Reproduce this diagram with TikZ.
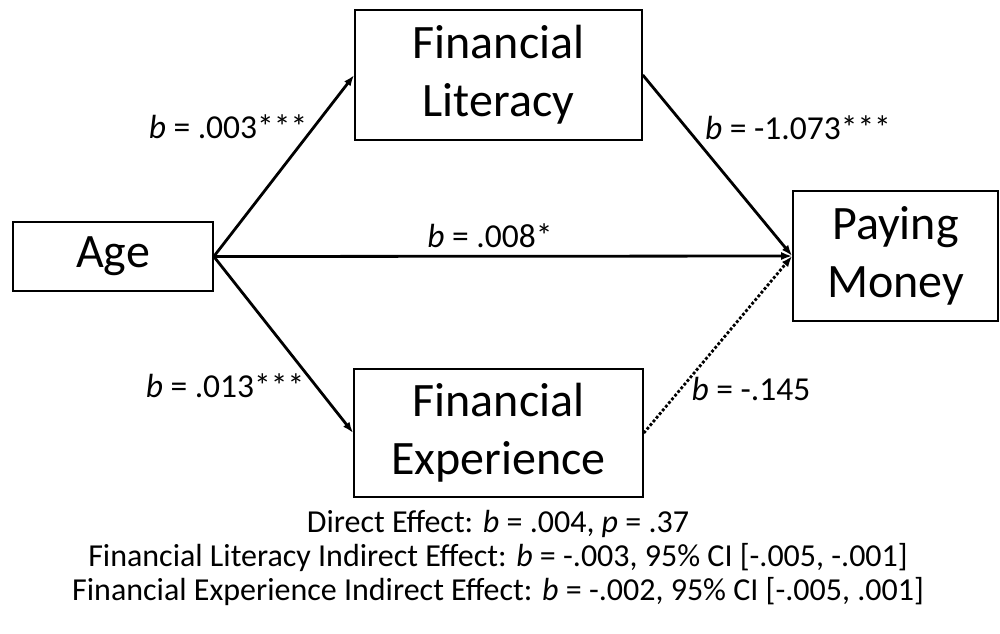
\documentclass[tikz,border=0pt]{standalone}
\usepackage{fontspec}
\setmainfont{Carlito}
\usetikzlibrary{arrows.meta,positioning}

\begin{document}
\begin{tikzpicture}[x=1pt,y=-1pt,
        block/.style={draw,rectangle,line width=1.6pt,inner sep=0pt,align=center,
          font=\fontsize{48}{58}\selectfont},
        effect/.style={line width=2.8pt,-{Latex[length=11pt,width=8pt]}},
        coef/.style={inner sep=0pt,anchor=base,font=\fontsize{33.5}{36}\selectfont}]
   \useasboundingbox (0,0) rectangle (1000,633);
   \node (A) [block,minimum width=200pt,minimum height=69pt] at (113,256.5) {Age};
   \node (L) [block,minimum width=287pt,minimum height=130pt] at (498.5,75) {Financial\\Literacy};
   \node (E) [block,minimum width=289pt,minimum height=128pt] at (498.5,433) {Financial\\Experience};
   \node (P) [block,minimum width=205pt,minimum height=130pt] at (895.5,256) {Paying\\Money};
   \draw[effect] (A.east) -- (L.west);
   \draw[effect] (A.east) -- (E.west);
   \draw[effect] (A.east) -- (P.west);
   \draw[effect] (L.east) -- (P.west);
   \draw[effect,dotted] (E.east) -- (P.west);
   \node (bAL) [coef] at (228,138) {\textit{b} = .003***};
   \node (bAE) [coef] at (225,397) {\textit{b} = .013***};
   \node (bAP) [coef] at (490,247) {\textit{b} = .008*};
   \node (bLP) [coef] at (798,139) {\textit{b} = -1.073***};
   \node (bEP) [coef] at (751,400) {\textit{b} = -.145};
   \node (N) [inner sep=0pt,align=center,font=\fontsize{32}{34}\selectfont] at (498,558)
      {Direct Effect: \textit{b} = .004, \textit{p} = .37\\
      Financial Literacy Indirect Effect: \textit{b} = -.003, 95\% CI [-.005, -.001]\\
      Financial Experience Indirect Effect: \textit{b} = -.002, 95\% CI [-.005, .001]};
\end{tikzpicture}
\end{document}
